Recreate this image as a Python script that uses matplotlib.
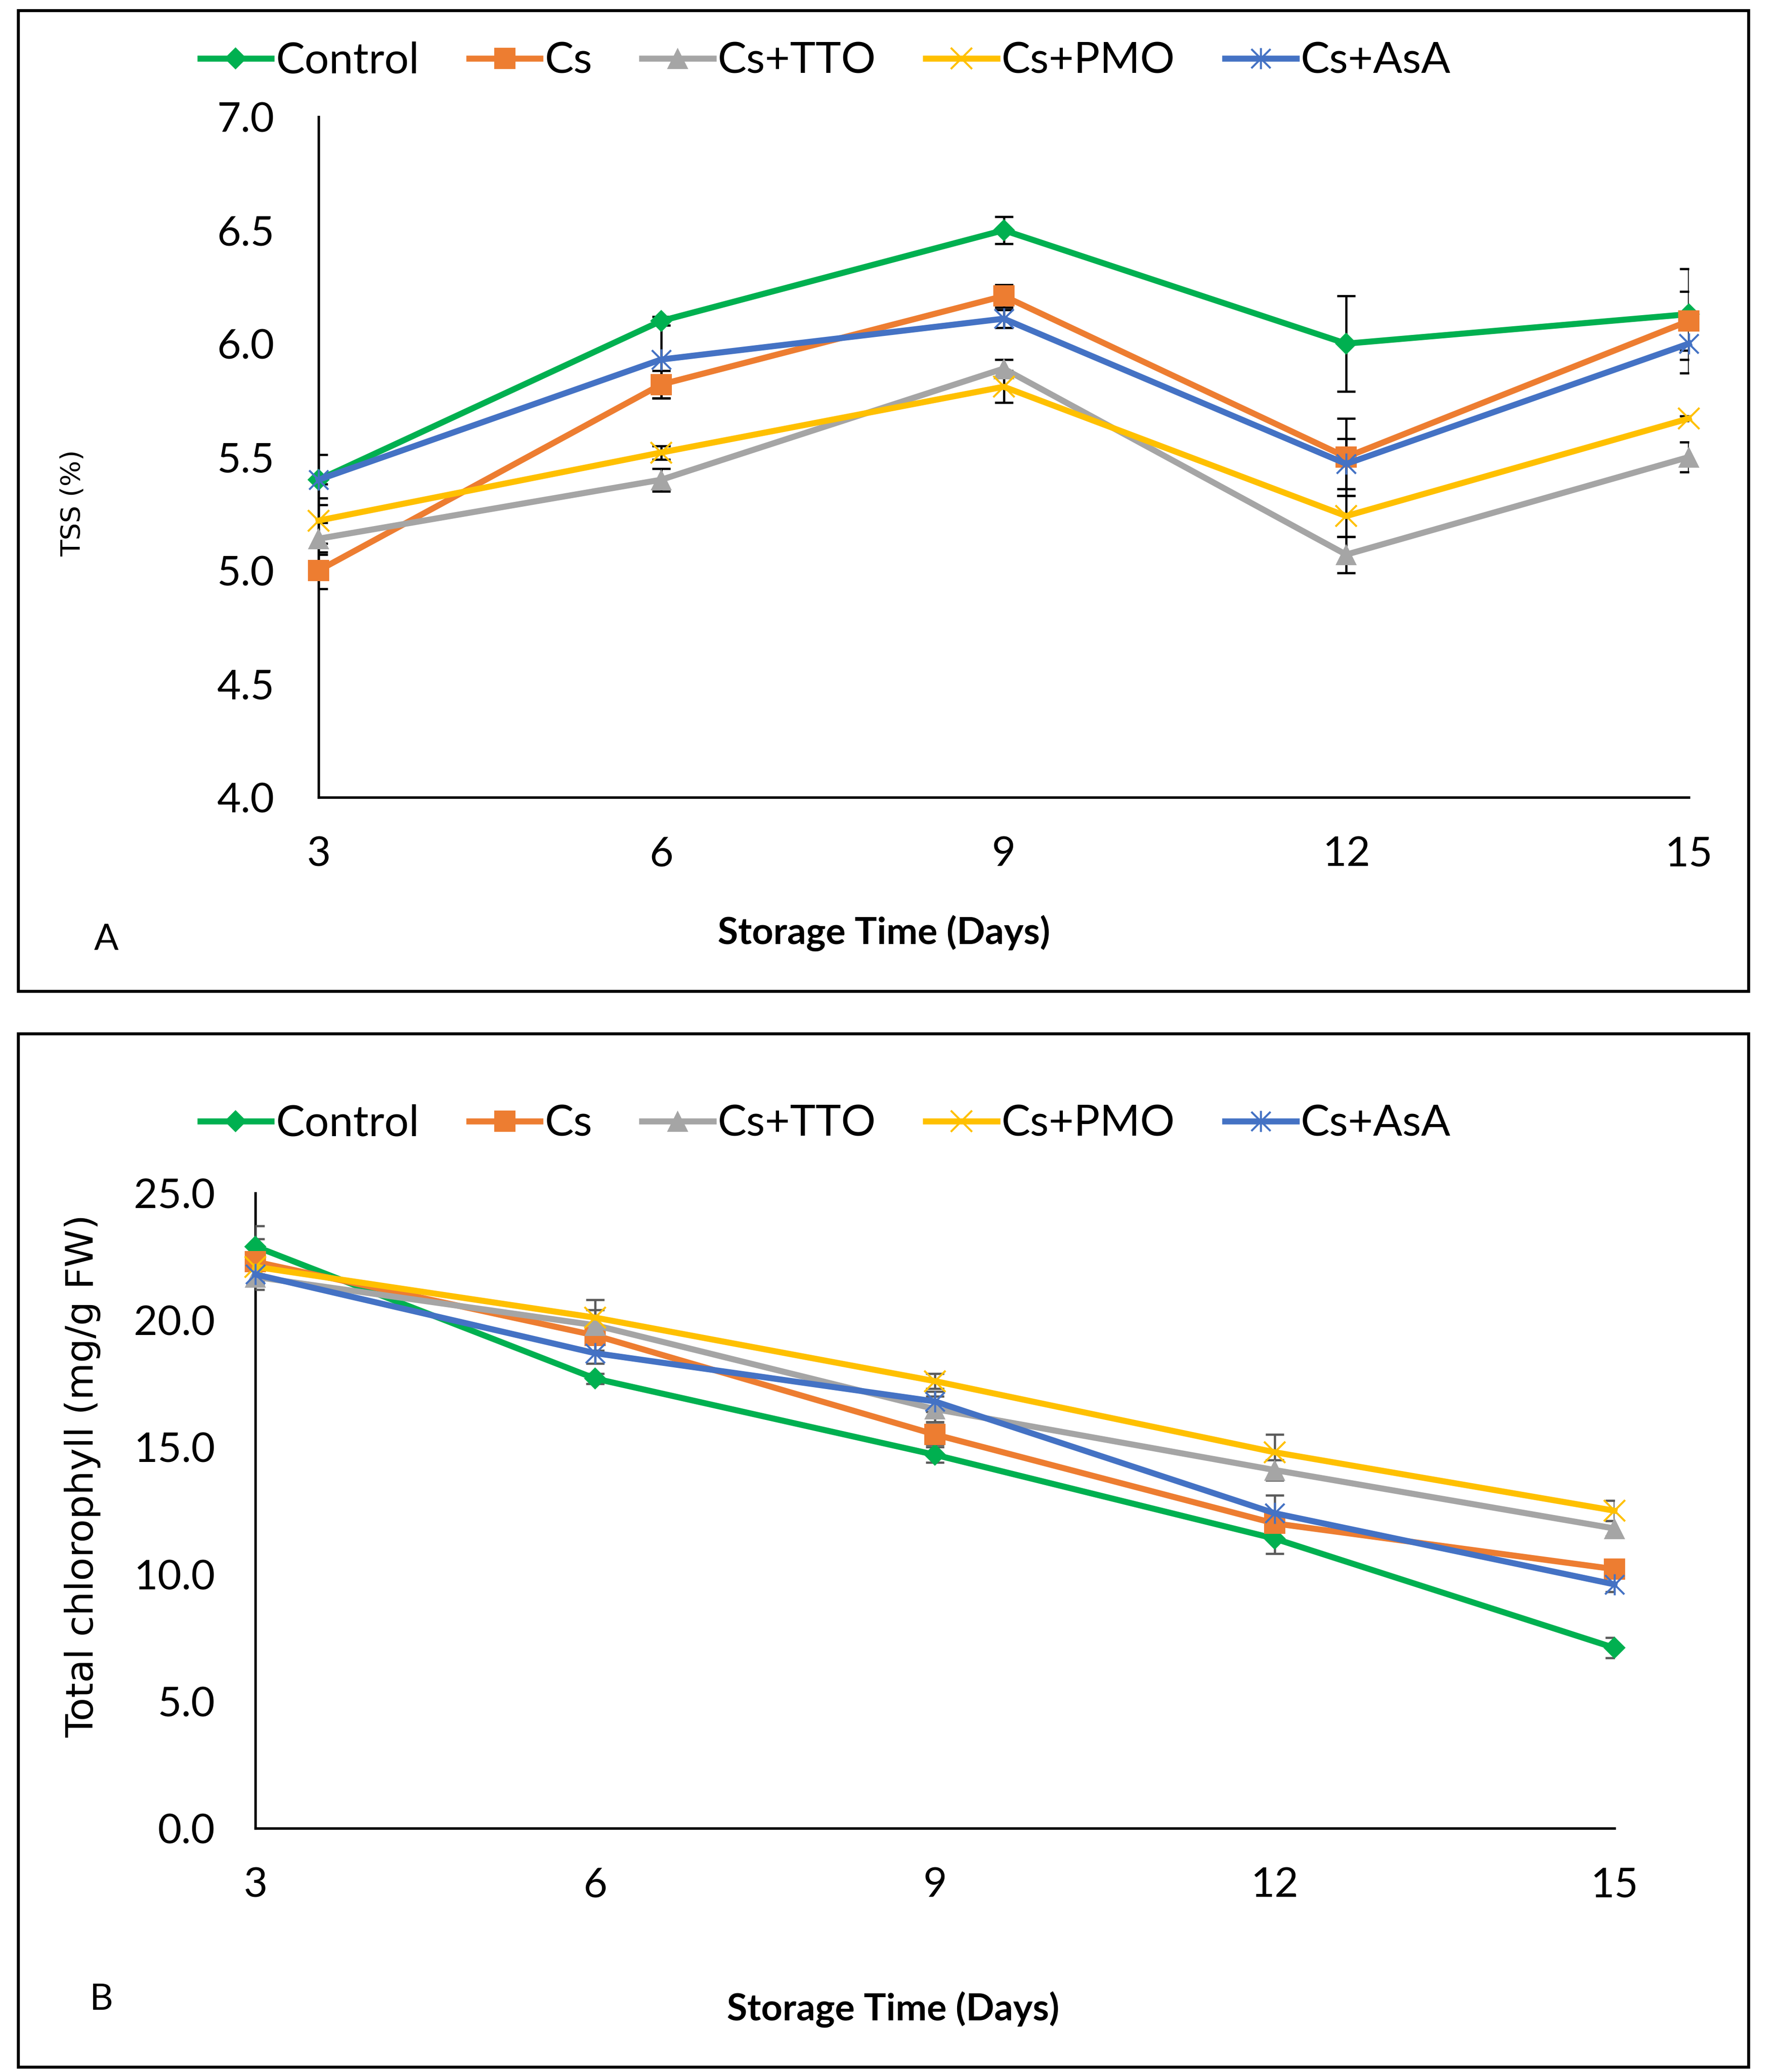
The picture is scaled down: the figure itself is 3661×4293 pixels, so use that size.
import matplotlib
matplotlib.use('Agg')
import matplotlib.pyplot as plt
from matplotlib.path import Path
from matplotlib.patches import Rectangle

# ---------------- data ----------------
days = [3, 6, 9, 12, 15]
series_names = ['Control', 'Cs', 'Cs+TTO', 'Cs+PMO', 'Cs+AsA']

tss_control = [5.40, 6.10, 6.50, 6.00, 6.13]
tss_cs = [5.00, 5.82, 6.21, 5.50, 6.10]
tss_tto = [5.14, 5.40, 5.89, 5.07, 5.50]
tss_pmo = [5.22, 5.52, 5.81, 5.24, 5.67]
tss_asa = [5.40, 5.93, 6.11, 5.47, 6.00]

tss_err_control = [0.11, 0.02, 0.06, 0.21, 0.20]
tss_err_cs = [0.08, 0.06, 0.05, 0.17, 0.13]
tss_err_tto = [0.07, 0.05, 0.04, 0.08, 0.065]
tss_err_pmo = [0.10, 0.03, 0.07, 0.09, 0.01]
tss_err_asa = [0.02, 0.17, 0.04, 0.11, 0.13]

chl_control = [22.9, 17.7, 14.7, 11.4, 7.1]
chl_cs = [22.3, 19.4, 15.5, 12.0, 10.2]
chl_tto = [21.7, 19.8, 16.5, 14.1, 11.8]
chl_pmo = [22.1, 20.1, 17.6, 14.8, 12.5]
chl_asa = [21.8, 18.7, 16.8, 12.4, 9.6]

chl_err_control = [0.8, 0.2, 0.3, 0.6, 0.4]
chl_err_cs = [0.9, 0.3, 0.4, 0.3, 0.2]
chl_err_tto = [0.5, 1.0, 0.5, 0.4, 0.3]
chl_err_pmo = [0.3, 0.3, 0.3, 0.7, 0.4]
chl_err_asa = [0.3, 0.4, 0.4, 0.7, 0.3]

tss_yticks = [4.0, 4.5, 5.0, 5.5, 6.0, 6.5, 7.0]
chl_yticks = [0.0, 5.0, 10.0, 15.0, 20.0, 25.0]

# ---------------- style ----------------
colors = ['#00B050', '#ED7D31', '#A5A5A5', '#FFC000', '#4472C4']
star = Path([(-0.5, -0.5), (0.5, 0.5), (-0.5, 0.5), (0.5, -0.5), (0, -0.55), (0, 0.55)],
            [Path.MOVETO, Path.LINETO, Path.MOVETO, Path.LINETO, Path.MOVETO, Path.LINETO])
markers = ['D', 's', '^', 'x', star]
msizes = [7.8, 10.5, 10.5, 10.5, 10.5]
mews = [0.0, 0.0, 0.0, 1.0, 1.0]

W, H = 3661, 4293
DPI = 300
fig = plt.figure(figsize=(W / DPI, H / DPI), dpi=DPI)
fig.patch.set_facecolor('white')

TICK_FONT = 'Lato'


def fx(px):
    return px / W


def fy(py):
    return 1 - py / H


def panel(frame, axbox, vals, errs, ecolor, yticks, ylim, ylabel, ylab_xy, ylab_size,
          legend_y, xlab_xy, letter, letter_xy, ytick_pad):
    x0, y0, x1, y1 = frame
    fig.patches.append(Rectangle((fx(x0), fy(y1)), fx(x1) - fx(x0), fy(y0) - fy(y1),
                                 transform=fig.transFigure, fill=False,
                                 edgecolor='black', linewidth=1.5, zorder=0))
    l, t, r, b = axbox
    ax = fig.add_axes([fx(l), fy(b), fx(r) - fx(l), fy(t) - fy(b)])
    handles = []
    for i in range(5):
        ax.errorbar(days, vals[i], yerr=errs[i], fmt='none', ecolor=ecolor,
                    elinewidth=1.1, capsize=4.6, capthick=1.1, zorder=2)
    for i in range(5):
        ln, = ax.plot(days, vals[i], color=colors[i], lw=3.0, marker=markers[i],
                      ms=msizes[i], mfc=colors[i], mec=colors[i], mew=mews[i],
                      clip_on=False, zorder=3 + i, label=series_names[i],
                      solid_joinstyle='round')
        handles.append(ln)
    ax.set_xlim(3, 15)
    ax.set_ylim(*ylim)
    ax.set_xticks(days)
    ax.set_xticklabels([str(d) for d in days])
    ax.set_yticks(yticks)
    ax.set_yticklabels([f'{v:.1f}' for v in yticks])
    ax.tick_params(axis='both', length=0, labelsize=20.5)
    ax.tick_params(axis='y', pad=ytick_pad)
    ax.tick_params(axis='x', pad=19)
    for lab in ax.get_xticklabels() + ax.get_yticklabels():
        lab.set_fontfamily(TICK_FONT)
    for s in ['top', 'right']:
        ax.spines[s].set_visible(False)
    for s in ['left', 'bottom']:
        ax.spines[s].set_linewidth(1.25)
        ax.spines[s].set_color('black')
        ax.spines[s].set_zorder(1)
    ax.patch.set_alpha(0)

    fig.legend(handles=handles, loc='center', bbox_to_anchor=(fx(1710), fy(legend_y)),
               ncol=5, frameon=False, prop={'family': TICK_FONT, 'size': 21.5},
               handlelength=1.65, handletextpad=0.1, columnspacing=1.15,
               numpoints=1, borderaxespad=0)
    fig.text(fx(ylab_xy[0]), fy(ylab_xy[1]), ylabel, rotation=90, ha='center',
             va='center', fontsize=ylab_size, family='DejaVu Sans')
    fig.text(fx(xlab_xy[0]), fy(xlab_xy[1]), 'Storage Time (Days)', ha='center',
             va='center', fontsize=18.5, fontweight='bold', family=TICK_FONT)
    fig.text(fx(letter_xy[0]), fy(letter_xy[1]), letter, ha='center', va='center',
             fontsize=18, family=TICK_FONT)
    return ax


panel(frame=(38, 22, 3623, 2054), axbox=(660, 242, 3499, 1652),
      vals=[tss_control, tss_cs, tss_tto, tss_pmo, tss_asa],
      errs=[tss_err_control, tss_err_cs, tss_err_tto, tss_err_pmo, tss_err_asa],
      ecolor='black', yticks=tss_yticks, ylim=(4.0, 7.0), ylabel='TSS (%)',
      ylab_xy=(151, 1042), ylab_size=13.5, legend_y=127, xlab_xy=(1831, 1933),
      letter='A', letter_xy=(220, 1946), ytick_pad=22)

panel(frame=(38, 2142, 3623, 4283), axbox=(529, 2472, 3345, 3788),
      vals=[chl_control, chl_cs, chl_tto, chl_pmo, chl_asa],
      errs=[chl_err_control, chl_err_cs, chl_err_tto, chl_err_pmo, chl_err_asa],
      ecolor='#595959', yticks=chl_yticks, ylim=(0.0, 25.0),
      ylabel='Total chlorophyll (mg/g FW)', ylab_xy=(171, 3058), ylab_size=19,
      legend_y=2329, xlab_xy=(1850, 4163), letter='B',
      letter_xy=(209, 4143), ytick_pad=20)

fig.savefig('out.png', dpi=DPI, facecolor='white')
